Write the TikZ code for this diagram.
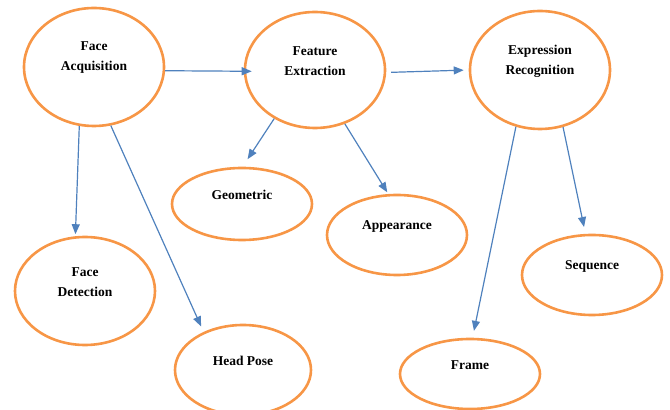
\documentclass[tikz,border=0pt]{standalone}
\usepackage{fontspec}
\setmainfont{Liberation Serif}
\usetikzlibrary{shapes.geometric,arrows.meta,positioning}
\definecolor{ringorange}{RGB}{247,150,70}
\definecolor{flowblue}{RGB}{79,129,189}
\tikzset{
  blob/.style={ellipse,draw=ringorange,line width=2.6pt,minimum width=140pt},
  tag/.style={font=\fontsize{13.5}{20}\selectfont\bfseries,align=center,yshift=9pt},
  flow/.style={draw=flowblue,line width=1.2pt,-{Triangle[length=10pt,width=8pt]}}
}

\begin{document}
\begin{tikzpicture}[on grid]
  \useasboundingbox (0,0) rectangle (670pt,410pt);
  \node[blob,minimum height=118pt,label={[tag]center:Face\\Acquisition}] (fa) at (94pt,343pt) {};
  \node[blob,minimum height=116pt,label={[tag]center:Feature\\Extraction}] (fe) [below right = 3pt and 221pt of fa] {};
  \node[blob,minimum height=118pt,label={[tag]center:Expression\\Recognition}] (er) [right = 225pt of fe] {};
  \node[blob,minimum height=72pt,label={[tag]center:Geometric}] (geo) [below left = 134pt and 73pt of fe] {};
  \node[blob,minimum height=80pt,label={[tag]center:Appearance}] (app) [below right = 165pt and 82pt of fe] {};
  \node[blob,minimum height=108pt,label={[tag]center:Face\\Detection}] (fd) [below left = 224pt and 9pt of fa] {};
  \node[blob,minimum width=136pt,minimum height=90pt,label={[tag]center:Head Pose}] (hp) [below right = 303pt and 149pt of fa] {};
  \node[blob,minimum height=80pt,label={[tag]center:Sequence}] (seq) [below right = 205pt and 52pt of er] {};
  \node[blob,minimum height=70pt,label={[tag]center:Frame}] (frame) [below left = 304pt and 70pt of er] {};
  \draw[flow,shorten >=-8pt] (fa.-3) -- (fe.181);
  \draw[flow,shorten >=2pt] (fa.-104) -- (fd.100);
  \draw[flow,shorten >=6pt] (fa.-74) -- (hp.136);
  \draw[flow,shorten <=5pt,shorten >=5pt] (fe.-2) -- (er.180);
  \draw[flow,shorten >=9pt] (fe.-130) -- (geo.89);
  \draw[flow,shorten >=2pt] (fe.-61) -- (app.102);
  \draw[flow,shorten >=7pt] (er.-113) -- (frame.86);
  \draw[flow,shorten >=7pt] (er.-68) -- (seq.99);
\end{tikzpicture}
\end{document}
